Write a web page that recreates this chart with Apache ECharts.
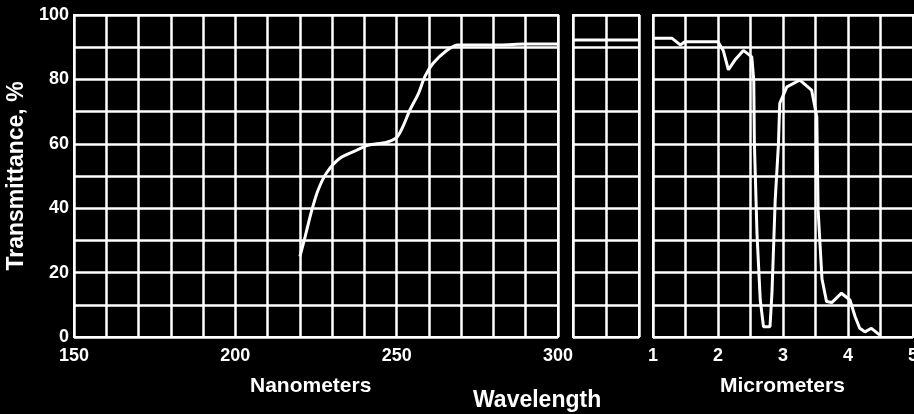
<!DOCTYPE html>
<html>
<head>
<meta charset="utf-8">
<script src="https://cdn.jsdelivr.net/npm/echarts@6/dist/echarts.min.js"></script>
<style>
html, body { margin: 0; padding: 0; background: #000; }
#main { width: 914px; height: 414px; }
</style>
</head>
<body>
<div id="main"></div>
<script>
// ultraviolet part, nanometers
var nmX = [220, 221.6, 223.6, 225.6, 228.3, 232.4, 237.6, 241, 246.9, 250, 252, 254.1, 256.7, 258.8, 261.3, 265.5, 269, 282, 290, 300];
var nmT = [25, 31, 39, 45.5, 51, 55.5, 58, 59.5, 60.5, 62, 65.5, 70.5, 75.5, 81, 85, 89, 90.7, 90.7, 91, 91];
// break panel (visible range)
var midX = [0, 2];
var midT = [92.2, 92.2];
// infrared part, micrometers
var umX = [1.0, 1.29, 1.42, 1.49, 2.0, 2.08, 2.16, 2.26, 2.39, 2.52, 2.55, 2.56, 2.6, 2.65, 2.7, 2.8, 2.83, 2.88, 2.93, 2.95, 3.06, 3.26, 3.44, 3.52, 3.54, 3.6, 3.67, 3.75, 3.9, 4.03, 4.11, 4.18, 4.26, 4.36, 4.49];
var umT = [92.8, 92.8, 90.7, 91.7, 91.7, 89, 83, 86, 89, 87, 79.8, 60, 32, 11.5, 3.2, 3.2, 13.6, 42.5, 60, 72.6, 77.7, 79.8, 76.7, 68.4, 39.4, 18, 11, 10.7, 13.6, 11.5, 6.3, 2.7, 1.6, 2.7, 0.6];

var font = 'Liberation Sans';
var white = '#fff';

function pairs(xs, ys) {
    var out = [];
    for (var i = 0; i < xs.length; i++) out.push([xs[i], ys[i]]);
    return out;
}

function xAxisCfg(idx, min, max, step, labelEvery) {
    return {
        type: 'value',
        gridIndex: idx,
        min: min, max: max, interval: step,
        axisLine: { show: true, lineStyle: { color: white, width: 2 } },
        axisTick: { show: true, inside: true, length: 4, lineStyle: { color: white } },
        splitLine: { show: true, lineStyle: { color: white, width: 2.5 } },
        axisLabel: {
            show: labelEvery > 0,
            color: white,
            fontFamily: font,
            fontWeight: 'bold',
            fontSize: 18,
            margin: 10,
            formatter: function (v) {
                return Math.abs(v / labelEvery - Math.round(v / labelEvery)) < 1e-6 ? String(v) : '';
            }
        }
    };
}

function yAxisCfg(idx, showLabel) {
    return {
        type: 'value',
        gridIndex: idx,
        min: 0, max: 100, interval: 10,
        axisLine: { show: true, lineStyle: { color: white, width: 2 } },
        axisTick: { show: false },
        splitLine: { show: true, lineStyle: { color: white, width: 2.5 } },
        name: showLabel ? 'Transmittance, %' : '',
        nameLocation: 'middle',
        nameGap: 46,
        nameTextStyle: { color: white, fontFamily: font, fontWeight: 'bold', fontSize: 23 },
        axisLabel: {
            show: showLabel,
            color: white,
            fontFamily: font,
            fontWeight: 'bold',
            fontSize: 18,
            margin: 5,
            formatter: function (v) { return v % 20 === 0 ? String(v) : ''; }
        }
    };
}

function lineSeries(idx, data, smooth) {
    return {
        type: 'line',
        xAxisIndex: idx,
        yAxisIndex: idx,
        data: data,
        smooth: smooth,
        showSymbol: false,
        symbol: 'none',
        lineStyle: { color: white, width: 3 },
        silent: true
    };
}

var gridBase = { show: true, borderColor: white, borderWidth: 2, backgroundColor: 'transparent', outerBoundsMode: 'none', containLabel: false };

var option = {
    backgroundColor: '#000',
    animation: false,
    grid: [
        Object.assign({ left: 74, right: 356, top: 15, bottom: 77 }, gridBase),
        Object.assign({ left: 573, right: 275, top: 15, bottom: 77 }, gridBase),
        Object.assign({ left: 653, right: 1, top: 15, bottom: 77 }, gridBase)
    ],
    xAxis: [
        xAxisCfg(0, 150, 300, 10, 50),
        xAxisCfg(1, 0, 2, 1, 0),
        xAxisCfg(2, 1, 5, 0.5, 1)
    ],
    yAxis: [
        yAxisCfg(0, true),
        yAxisCfg(1, false),
        yAxisCfg(2, false)
    ],
    graphic: [
        { type: 'text', left: 250, top: 376, style: { text: 'Nanometers', fill: white, font: 'bold 21px "Liberation Sans"' } },
        { type: 'text', left: 473, top: 389, style: { text: 'Wavelength', fill: white, font: 'bold 23px "Liberation Sans"' } },
        { type: 'text', left: 720, top: 376, style: { text: 'Micrometers', fill: white, font: 'bold 21px "Liberation Sans"' } }
    ],
    series: [
        lineSeries(0, pairs(nmX, nmT), 0.3),
        lineSeries(1, pairs(midX, midT), false),
        lineSeries(2, pairs(umX, umT), false)
    ]
};

var myChart = echarts.init(document.getElementById('main'), null, { renderer: 'canvas' });
myChart.setOption(option);
</script>
</body>
</html>
